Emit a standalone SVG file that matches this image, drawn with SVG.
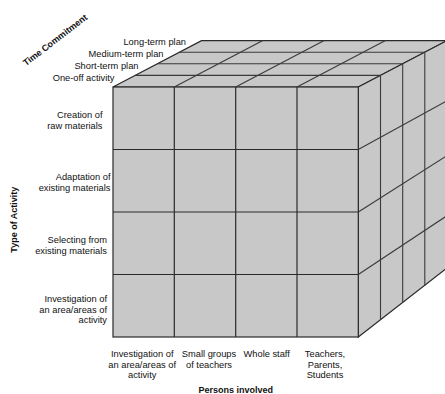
<svg xmlns="http://www.w3.org/2000/svg" width="445" height="394" viewBox="0 0 445 394">
<style>
.face{fill:#c8c8c8;stroke:#2a2a2a;stroke-width:1.2;stroke-linejoin:miter}
.ln{stroke:#2a2a2a;stroke-width:1.2;fill:none}
.lt{stroke:#3a3a3a;stroke-width:1.1;fill:none}
.lbl{font-family:"Liberation Sans",Arial,sans-serif;font-size:9.3px;fill:#111}
.end{text-anchor:end}
.mid{text-anchor:middle}
.ttl{font-family:"Liberation Sans",Arial,sans-serif;font-size:9px;font-weight:bold;fill:#111}
</style>
<rect width="445" height="394" fill="#ffffff"/>
<g id="cube">
  <g id="top-face">
    <polygon class="face" points="113,87 358.3,87 447,40.6 201.5,40.6"/>
  </g>
  <g id="right-face">
    <polygon class="face" points="358.3,87 447,40.6 447,268 358.3,337"/>
  </g>
  <g id="front-face">
    <rect class="face" x="113" y="87" width="245.3" height="250"/>
  </g>
  <g id="grid-lines">
    <!-- top face depth lines -->
    <line class="lt" x1="135.1" y1="75.4" x2="380.5" y2="75.4"/>
    <line class="lt" x1="157.3" y1="63.8" x2="402.7" y2="63.8"/>
    <line class="lt" x1="179.4" y1="52.2" x2="424.8" y2="52.2"/>
    <!-- top face column lines -->
    <line class="lt" x1="174.3" y1="87" x2="262.8" y2="40.6"/>
    <line class="lt" x1="235.7" y1="87" x2="324.2" y2="40.6"/>
    <line class="lt" x1="297" y1="87" x2="385.5" y2="40.6"/>
    <!-- front face columns -->
    <line class="ln" x1="174.3" y1="87" x2="174.3" y2="337"/>
    <line class="ln" x1="235.7" y1="87" x2="235.7" y2="337"/>
    <line class="ln" x1="297" y1="87" x2="297" y2="337"/>
    <!-- front face rows -->
    <line class="ln" x1="113" y1="149.5" x2="358.3" y2="149.5"/>
    <line class="ln" x1="113" y1="212" x2="358.3" y2="212"/>
    <line class="ln" x1="113" y1="274.5" x2="358.3" y2="274.5"/>
    <!-- right face verticals -->
    <line class="lt" x1="380.5" y1="75.4" x2="380.5" y2="319.9"/>
    <line class="lt" x1="402.7" y1="63.8" x2="402.7" y2="302.8"/>
    <line class="lt" x1="424.8" y1="52.2" x2="424.8" y2="285.8"/>
    <!-- right face rows -->
    <line class="lt" x1="358.3" y1="149.5" x2="447" y2="100.7"/>
    <line class="lt" x1="358.3" y1="212" x2="447" y2="155.6"/>
    <line class="lt" x1="358.3" y1="274.5" x2="447" y2="215.7"/>
  </g>
</g>
<g id="time-labels">
  <text class="lbl end" x="186" y="45">Long-term plan</text>
  <text class="lbl end" x="163.5" y="56.5">Medium-term plan</text>
  <text class="lbl end" x="138.5" y="68.5">Short-term plan</text>
  <text class="lbl end" x="114.5" y="80.5">One-off activity</text>
  <text class="ttl mid" transform="translate(57,42.5) rotate(-37.5)">Time Commitment</text>
</g>
<g id="activity-labels">
  <text class="lbl end" x="102.5" y="117.6">Creation of</text>
  <text class="lbl end" x="102.5" y="129">raw materials</text>
  <text class="lbl end" x="110.5" y="180">Adaptation of</text>
  <text class="lbl end" x="110.5" y="191">existing materials</text>
  <text class="lbl end" x="107" y="243.3">Selecting from</text>
  <text class="lbl end" x="107" y="254.3">existing materials</text>
  <text class="lbl end" x="107" y="301.6">Investigation of</text>
  <text class="lbl end" x="107" y="312.6">an area/areas of</text>
  <text class="lbl end" x="107" y="323.3">activity</text>
  <text class="ttl mid" transform="translate(16.6,219.7) rotate(-90)">Type of Activity</text>
</g>
<g id="persons-labels">
  <text class="lbl mid" x="142.2" y="357.3">Investigation of</text>
  <text class="lbl mid" x="142.2" y="367.6">an area/areas of</text>
  <text class="lbl mid" x="142.2" y="377.6">activity</text>
  <text class="lbl mid" x="209" y="357.3">Small groups</text>
  <text class="lbl mid" x="209" y="367.6">of teachers</text>
  <text class="lbl mid" x="266.7" y="357.3">Whole staff</text>
  <text class="lbl mid" x="325" y="357.3">Teachers,</text>
  <text class="lbl mid" x="325" y="367.6">Parents,</text>
  <text class="lbl mid" x="325" y="377.6">Students</text>
  <text class="ttl mid" x="235.8" y="393">Persons involved</text>
</g>
</svg>
